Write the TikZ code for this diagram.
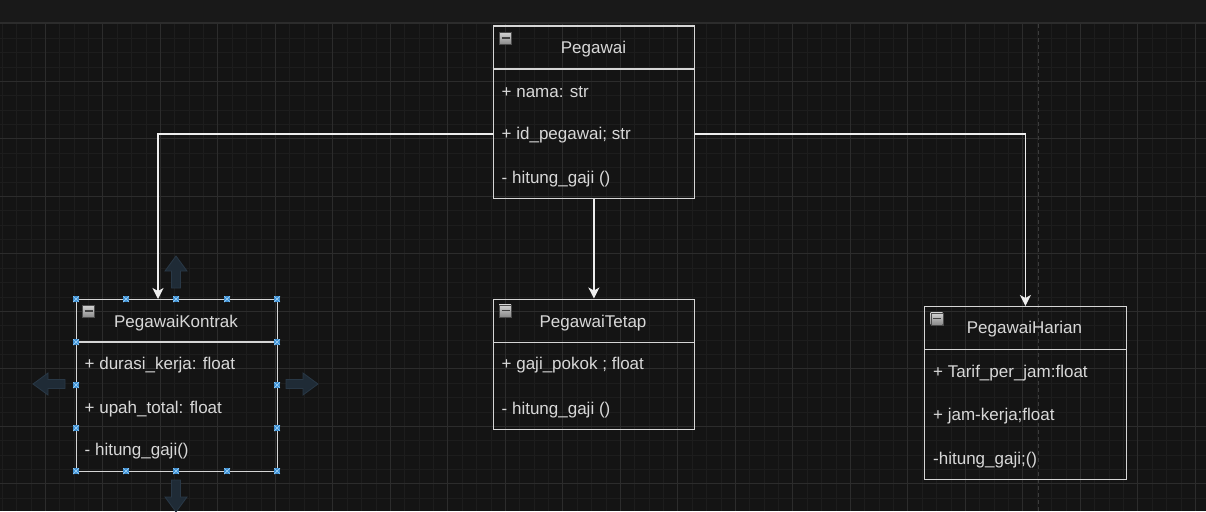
\documentclass[tikz,border=0pt]{standalone}
\usepackage{fontspec}
\setmainfont{Liberation Sans}
\usetikzlibrary{arrows.meta}
\definecolor{bgc}{HTML}{141414}
\definecolor{topc}{HTML}{191919}
\definecolor{toplinec}{HTML}{2C2C2C}
\definecolor{gminorc}{HTML}{1D1D1D}
\definecolor{gmajorc}{HTML}{2C2C2C}
\definecolor{dashcol}{HTML}{3C3C3C}
\definecolor{boxc}{HTML}{D6D6D6}
\definecolor{txtc}{HTML}{D8D8D8}
\definecolor{connc}{HTML}{EEEEEE}
\definecolor{hovfill}{HTML}{1F2B36}
\definecolor{hovdraw}{HTML}{293846}
\definecolor{handfill}{HTML}{3A8ED3}
\definecolor{handx}{HTML}{9ED0F5}
\tikzset{
  classbox/.style={draw=boxc, line width=1.3pt, rectangle, inner sep=0pt, anchor=north west},
  sepline/.style={draw=boxc, line width=1.3pt},
  conn/.style={draw=connc, line width=1.4pt, -{Stealth[length=11pt,width=11pt,inset=3pt]}},
  lbl/.style={text=txtc, inner sep=0pt, font=\fontsize{17}{20}\selectfont, text height=12pt, text depth=4pt},
  attr/.style={lbl, anchor=west},
  ttl/.style={lbl, anchor=center},
  iconbox/.style={rectangle, minimum size=12pt, inner sep=0pt, draw=gray!60!black, top color=gray!35, bottom color=gray!85!white!60!gray, anchor=north west},
  handle/.style={rectangle, minimum size=6pt, inner sep=0pt, fill=handfill,
    path picture={\draw[handx, line width=0.7pt] (path picture bounding box.north west) -- (path picture bounding box.south east) (path picture bounding box.north east) -- (path picture bounding box.south west);}},
  hoverarrow/.pic={\filldraw[fill=hovfill, draw=hovdraw, line width=0.8pt] (0,-4.5) -- (17,-4.5) -- (17,-11) -- (32,0) -- (17,11) -- (17,4.5) -- (0,4.5) -- cycle;}
}
\begin{document}
\begin{tikzpicture}[x=1pt,y=-1pt]
\useasboundingbox (0,0) rectangle (1206,511);
\fill[bgc] (0,0) rectangle (1206,511);
% grid
\foreach \i in {0,...,84} {\draw[gminorc, line width=0.8pt] ({2.2+\i*14.375},23) -- ({2.2+\i*14.375},511);}
\foreach \i in {2,...,35} {\draw[gminorc, line width=0.8pt] (0,{9.4+\i*14.375}) -- (1206,{9.4+\i*14.375});}
\foreach \i in {0,...,20} {\draw[gmajorc, line width=0.9pt] ({45.3+\i*57.5},23) -- ({45.3+\i*57.5},511);}
\foreach \i in {0,...,7} {\draw[gmajorc, line width=0.9pt] (0,{81.3+\i*57.5}) -- (1206,{81.3+\i*57.5});}
\draw[dashcol, line width=1pt, dash pattern=on 4pt off 3pt] (1038,24) -- (1038,511);
% top bar
\fill[topc] (0,0) rectangle (1206,22);
\draw[toplinec, line width=1.6pt] (0,22.8) -- (1206,22.8);

% Pegawai
\node[classbox, minimum width=201.5pt, minimum height=172.5pt] (peg) at (492.5,25.5) {};
\draw[sepline] (492.5,69) -- (694,69);
\node[iconbox] (ic1) at (499,32) {};
\draw[black!75, line width=1.8pt] (501.5,38) -- (509.5,38);
\node[ttl] (pegt) at (593.5,49) {Pegawai};
\node[attr] (pega1) at (501.5,93) {+ nama: str};
\node[attr] (pega2) at (501.5,135.5) {+ id\_pegawai; str};
\node[attr] (pega3) at (501.5,179) {- hitung\_gaji ()};

% PegawaiKontrak
\node[classbox, minimum width=201pt, minimum height=172pt] (kon) at (76,299) {};
\draw[sepline] (76,342) -- (277,342);
\node[iconbox] (ic2) at (82,305) {};
\draw[black!75, line width=1.8pt] (84.5,311) -- (92.5,311);
\node[ttl] (kont) at (176,323) {PegawaiKontrak};
\node[attr] (kona1) at (84.5,365.5) {+ durasi\_kerja: float};
\node[attr] (kona2) at (84.5,409) {+ upah\_total: float};
\node[attr] (kona3) at (84.5,451.5) {- hitung\_gaji()};

% PegawaiTetap
\node[classbox, minimum width=201.5pt, minimum height=130pt] (tet) at (492.5,298.5) {};
\draw[sepline] (492.5,342.3) -- (694,342.3);
\node[iconbox] (ic3) at (499,304.5) {};
\draw[black!75, line width=1.8pt] (501.5,310.5) -- (509.5,310.5);
\node[ttl] (tett) at (593,323.5) {PegawaiTetap};
\node[attr] (teta1) at (501.5,365.5) {+ gaji\_pokok ; float};
\node[attr] (teta2) at (501.5,410.5) {- hitung\_gaji ()};

% PegawaiHarian
\node[classbox, minimum width=201.5pt, minimum height=173pt] (har) at (924,306) {};
\draw[sepline] (924,349.3) -- (1125.5,349.3);
\node[iconbox] (ic4) at (930.5,312.5) {};
\draw[black!75, line width=1.8pt] (933,318.5) -- (941,318.5);
\node[ttl] (hart) at (1024.5,329.5) {PegawaiHarian};
\node[attr] (hara1) at (933,373) {+ Tarif\_per\_jam:float};
\node[attr] (hara2) at (933,416.5) {+ jam-kerja;float};
\node[attr] (hara3) at (933,460.5) {-hitung\_gaji;()};

% connectors
\coordinate (rowy) at (0,134);
\coordinate (kin) at (158,299);
\draw[conn] (peg.west |- rowy) -| (kin);
\draw[conn] (peg.east |- rowy) -| (har.north);
\draw[conn] (peg.south) -- (tet.north);

% hover arrows around the selected box
\pic[rotate=90] at (176,288) {hoverarrow};
\pic[rotate=-90] at (176,480) {hoverarrow};
\pic[rotate=180] at (65,384) {hoverarrow};
\pic at (286,384) {hoverarrow};

% selection handles
\foreach \x [count=\k] in {76,126,176,227,277} {
  \node[handle] (ht\k) at (\x,299) {};
  \node[handle] (hb\k) at (\x,471) {};
}
\foreach \y [count=\k] in {342,385,428} {
  \node[handle] (hl\k) at (76,\y) {};
  \node[handle] (hr\k) at (277,\y) {};
}
\end{tikzpicture}
\end{document}
